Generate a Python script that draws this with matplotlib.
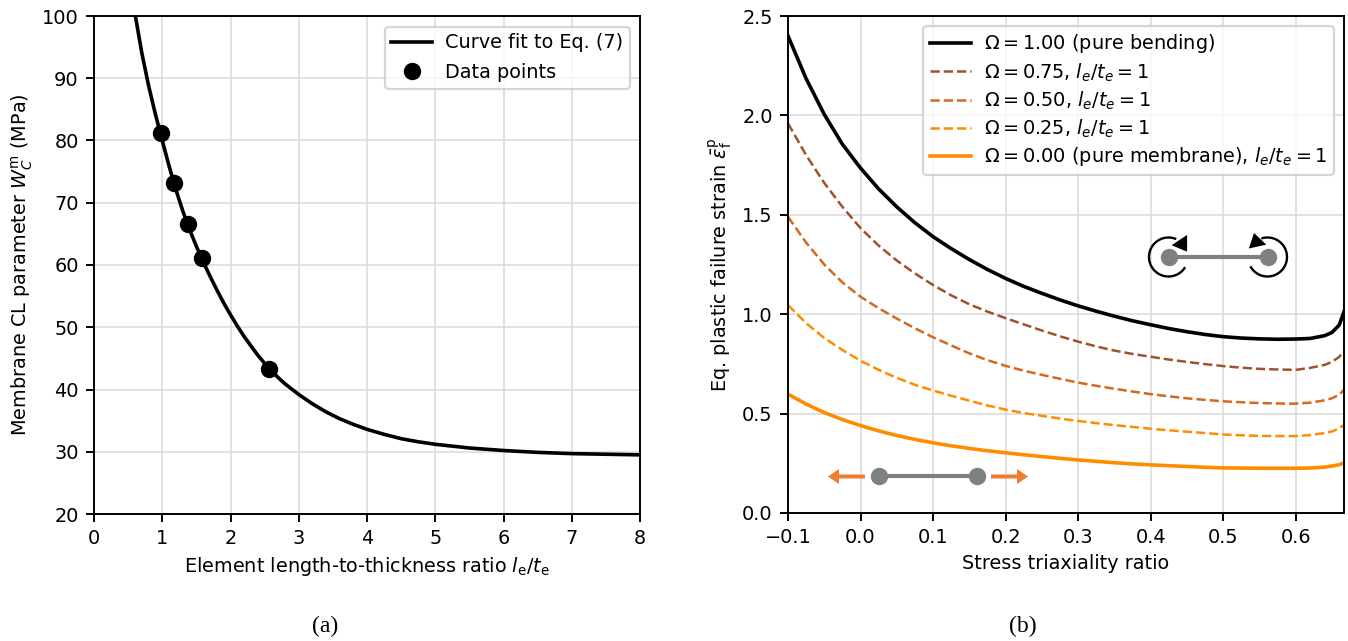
import matplotlib
matplotlib.use("Agg")
import matplotlib.pyplot as plt
import numpy as np

W, H = 1348, 641
FS = 13.9

# (a) curve fit and data points
fit_x = [0.60, 0.70, 0.80, 0.90, 1.00, 1.10, 1.20, 1.30, 1.40, 1.50, 1.60, 1.70, 1.80, 1.90, 2.00,
         2.10, 2.20, 2.30, 2.40, 2.50, 2.60, 2.70, 2.80, 3.00, 3.20, 3.40, 3.60, 3.80, 4.00, 4.25,
         4.50, 4.75, 5.00, 5.50, 6.00, 6.50, 7.00, 7.50, 8.00]
fit_y = [100.4, 94.1, 88.8, 84.2, 80.0, 75.9, 72.1, 68.7, 65.7, 63.0, 60.5, 58.2, 56.0, 53.9, 52.0,
         50.2, 48.5, 47.0, 45.5, 44.2, 43.0, 41.9, 40.9, 39.2, 37.7, 36.4, 35.3, 34.4, 33.6, 32.8,
         32.1, 31.6, 31.2, 30.6, 30.2, 29.9, 29.7, 29.6, 29.5]
data_x = [0.98, 1.17, 1.37, 1.58, 2.57]
data_y = [81.2, 73.2, 66.6, 61.2, 43.3]

# (b) failure strain curves
triax = [-0.100, -0.075, -0.050, -0.025, 0.000, 0.025, 0.050, 0.075, 0.100, 0.125, 0.150, 0.175,
         0.200, 0.225, 0.250, 0.275, 0.300, 0.325, 0.350, 0.375, 0.400, 0.425, 0.450, 0.475,
         0.500, 0.525, 0.550, 0.575, 0.600, 0.620, 0.640, 0.650, 0.660, 0.6667]
omega_100 = [2.40, 2.185, 2.005, 1.855, 1.735, 1.63, 1.54, 1.46, 1.39, 1.33, 1.275, 1.225,
             1.18, 1.14, 1.105, 1.072, 1.042, 1.015, 0.99, 0.967, 0.947, 0.928, 0.912, 0.898,
             0.887, 0.88, 0.876, 0.874, 0.875, 0.878, 0.892, 0.908, 0.945, 1.013]
omega_075 = [1.96, 1.80, 1.66, 1.54, 1.433, 1.345, 1.27, 1.205, 1.147, 1.095, 1.05, 1.013,
             0.98, 0.949, 0.918, 0.889, 0.862, 0.838, 0.817, 0.80, 0.786, 0.772, 0.76, 0.749,
             0.739, 0.731, 0.725, 0.722, 0.72, 0.73, 0.745, 0.76, 0.785, 0.815]
omega_050 = [1.49, 1.36, 1.25, 1.16, 1.088, 1.03, 0.978, 0.929, 0.884, 0.843, 0.803, 0.769,
             0.74, 0.716, 0.695, 0.675, 0.656, 0.64, 0.625, 0.611, 0.598, 0.587, 0.577, 0.569,
             0.562, 0.557, 0.553, 0.551, 0.55, 0.555, 0.567, 0.577, 0.595, 0.62]
omega_025 = [1.046, 0.955, 0.88, 0.82, 0.766, 0.72, 0.68, 0.645, 0.616, 0.59, 0.565, 0.541,
             0.52, 0.503, 0.489, 0.475, 0.463, 0.452, 0.442, 0.433, 0.424, 0.416, 0.409, 0.402,
             0.395, 0.391, 0.388, 0.387, 0.387, 0.392, 0.402, 0.41, 0.425, 0.445]
omega_000 = [0.598, 0.548, 0.505, 0.47, 0.44, 0.413, 0.39, 0.37, 0.353, 0.338, 0.325, 0.313,
             0.303, 0.293, 0.284, 0.275, 0.267, 0.26, 0.253, 0.247, 0.242, 0.238, 0.234, 0.23,
             0.227, 0.226, 0.225, 0.225, 0.225, 0.226, 0.231, 0.236, 0.243, 0.252]

plt.rcParams["font.size"] = FS
plt.rcParams["mathtext.fontset"] = "dejavusans"
plt.rcParams["legend.edgecolor"] = "#cccccc"
plt.rcParams["patch.linewidth"] = 1.6

fig = plt.figure(figsize=(W / 100, H / 100), dpi=100)


def make_axes(x0, x1, y0, y1):
    ax = fig.add_axes([x0 / W, 1 - y1 / H, (x1 - x0) / W, (y1 - y0) / H])
    ax.grid(True, color="#d9d9d9", lw=1.1)
    ax.set_axisbelow(True)
    ax.tick_params(length=6, width=1.4, labelsize=FS, pad=5)
    for s in ax.spines.values():
        s.set_linewidth(1.4)
    return ax


ax1 = make_axes(94, 640, 16, 514)
ax1.plot(fit_x, fit_y, color="k", lw=2.6, label="Curve fit to Eq. (7)")
ax1.plot(data_x, data_y, "o", color="k", ms=11.5, label="Data points")
ax1.set_xlim(0, 8)
ax1.set_ylim(20, 100)
ax1.set_xlabel(r"Element length-to-thickness ratio $l_\mathrm{e}/t_\mathrm{e}$", fontsize=FS, labelpad=5)
ax1.set_ylabel(r"Membrane CL parameter $W_C^\mathrm{m}$ (MPa)", fontsize=FS, labelpad=5)
ax1.legend(loc="upper right", fontsize=FS, borderaxespad=0.5, framealpha=0.8, handlelength=2.1,
           handletextpad=0.7, labelspacing=0.55, borderpad=0.35, bbox_to_anchor=(1, 0.998))

ax2 = make_axes(788, 1344, 16, 513)
ax2.plot(triax, omega_100, color="k", lw=2.6, label=r"$\Omega = 1.00$ (pure bending)")
ax2.plot(triax, omega_075, color="sienna", lw=1.8, ls="--", label=r"$\Omega = 0.75$, $l_e/t_e = 1$")
ax2.plot(triax, omega_050, color="chocolate", lw=1.8, ls="--", label=r"$\Omega = 0.50$, $l_e/t_e = 1$")
ax2.plot(triax, omega_025, color="darkorange", lw=1.8, ls="--", label=r"$\Omega = 0.25$, $l_e/t_e = 1$")
ax2.plot(triax, omega_000, color="darkorange", lw=2.6,
         label=r"$\Omega = 0.00$ (pure membrane), $l_e/t_e = 1$")
ax2.set_xlim(-0.1, 2 / 3)
ax2.set_ylim(0, 2.5)
ax2.set_xticks([-0.1, 0.0, 0.1, 0.2, 0.3, 0.4, 0.5, 0.6])
ax2.set_xlabel("Stress triaxiality ratio", fontsize=FS, labelpad=5)
ax2.set_ylabel(r"Eq. plastic failure strain $\bar{\varepsilon}_\mathrm{f}^\mathrm{p}$", fontsize=FS, labelpad=5)
ax2.legend(loc="upper right", fontsize=FS, borderaxespad=0.5, framealpha=0.8, handlelength=2.1,
           handletextpad=0.7, labelspacing=0.3, borderpad=0.35)

# pixel overlay for the small beam sketches
ov = fig.add_axes([0, 0, 1, 1])
ov.set_xlim(0, W)
ov.set_ylim(H, 0)
ov.axis("off")
ov.patch.set_alpha(0)

gray = "#808080"
orange = "#ed7d31"

ov.plot([1169, 1268], [257, 257], color=gray, lw=3, marker="o", ms=11.5)
t = np.radians(np.linspace(70, 325, 60))
ov.plot(1168.5 + 19.5 * np.cos(t), 257 - 19.5 * np.sin(t), color="k", lw=1.7)
ov.fill([1186, 1186, 1174], [237, 250, 245], color="k")
t = np.radians(np.linspace(105, -148, 60))
ov.plot(1267.5 + 19.5 * np.cos(t), 257 - 19.5 * np.sin(t), color="k", lw=1.7)
ov.fill([1254.5, 1250.5, 1264], [235, 247, 244], color="k")

ov.plot([879, 977], [476, 476], color=gray, lw=3, marker="o", ms=11.5)
ov.arrow(865, 476.5, -37, 0, width=4, head_width=15, head_length=11, length_includes_head=True,
         color=orange, lw=0)
ov.arrow(991, 476.5, 37, 0, width=4, head_width=15, head_length=11, length_includes_head=True,
         color=orange, lw=0)

fig.text(325 / W, 1 - 626 / H, "(a)", family="Liberation Serif", fontsize=17, ha="center", va="center")
fig.text(1023 / W, 1 - 626 / H, "(b)", family="Liberation Serif", fontsize=17, ha="center", va="center")

fig.savefig("out.png", dpi=100)
